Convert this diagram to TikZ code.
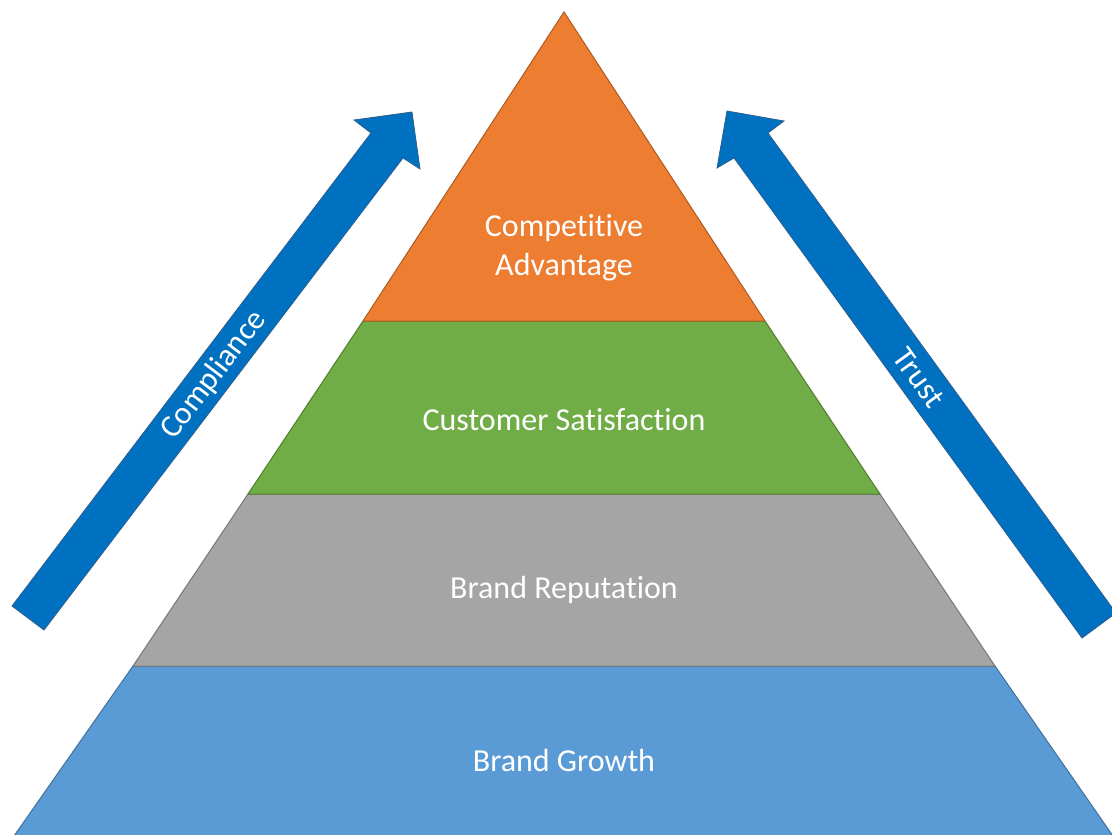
\documentclass[tikz,border=0pt]{standalone}
\usepackage{fontspec}
\setmainfont{Carlito}[Ligatures=CommonOff]
\definecolor{orng}{HTML}{ED7D31}
\definecolor{orngD}{HTML}{AE5A21}
\definecolor{grn}{HTML}{70AD47}
\definecolor{grnD}{HTML}{507E32}
\definecolor{gry}{HTML}{A5A5A5}
\definecolor{gryD}{HTML}{787878}
\definecolor{blu}{HTML}{5B9BD5}
\definecolor{bluD}{HTML}{41719C}
\definecolor{arrblue}{HTML}{0070C0}
\definecolor{arrblueD}{HTML}{2F5F8F}
\tikzset{
  layer/.style={line width=1pt, line join=miter},
  bigarrow/.style={fill=arrblue, draw=arrblueD, line width=0.8pt, line join=miter},
  lbl/.style={text=white, align=center, font=\fontsize{32}{39}\selectfont, inner sep=0pt},
}
\begin{document}
\begin{tikzpicture}[x=1pt,y=-1pt]
\useasboundingbox (0,0) rectangle (1112,835);
\clip (0,0) rectangle (1112,835);
% layers
\path[layer, fill=blu, draw=bluD] (133,666) -- (995,666) -- (1113,836) -- (14,836) -- cycle;
\path[layer, fill=gry, draw=gryD] (248,494) -- (880,494) -- (995,666) -- (133,666) -- cycle;
\path[layer, fill=grn, draw=grnD] (363,321) -- (765,321) -- (880,494) -- (248,494) -- cycle;
\path[layer, fill=orng, draw=orngD] (564,12) -- (765,321) -- (363,321) -- cycle;
% arrows
\path[bigarrow] (12,606) -- (371,133) -- (354,120) -- (412,112) -- (420,169) -- (403,158) -- (44,630) -- cycle;
\path[bigarrow] (1116,613) -- (768,133) -- (784,121) -- (727,111) -- (717,168) -- (734,158) -- (1082,638) -- cycle;
% labels
\node[lbl] (adv) at (564,248) {Competitive\\Advantage};
\node[lbl] (sat) at (564,420) {Customer Satisfaction};
\node[lbl] (rep) at (564,590) {Brand Reputation};
\node[lbl] (grow) at (564,761) {Brand Growth};
\node[lbl, rotate=52.8] (comp) at (214,375) {Compliance};
\node[lbl, rotate=-54.1] (trust) at (919,378) {Trust};
\end{tikzpicture}
\end{document}
